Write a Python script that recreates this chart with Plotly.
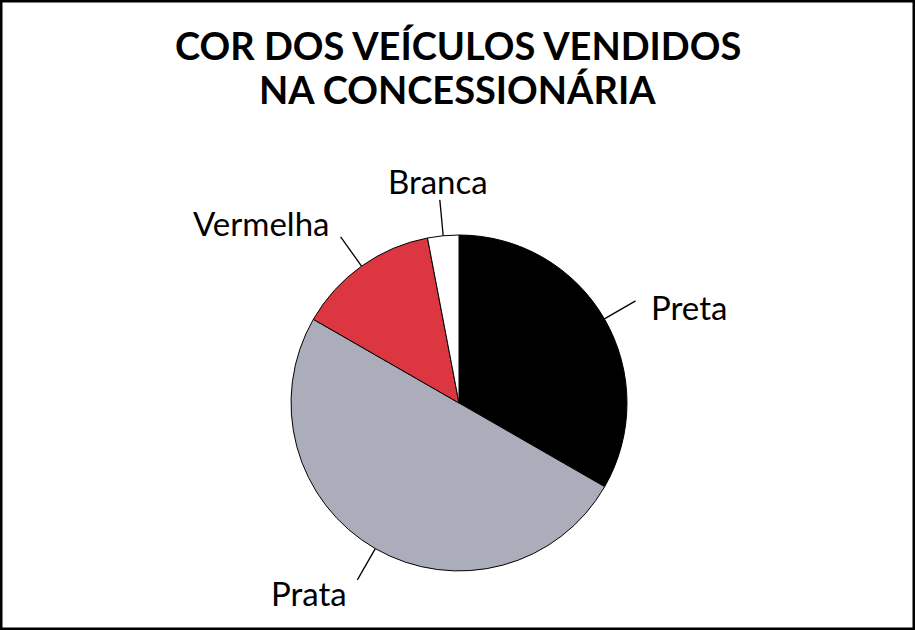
import numpy as np
import plotly.graph_objects as go

# dados (porcentagem aproximada de cada cor)
cores = ["Preta", "Prata", "Vermelha", "Branca"]
porcentagem = [33.3, 50.0, 13.7, 3.0]
cores_hex = ["#000000", "#ABADBB", "#DC3641", "#FFFFFF"]
titulo = ["COR DOS VEÍCULOS VENDIDOS", "NA CONCESSIONÁRIA"]

W, H = 915, 630
cx, cy, r = 459, 403, 168  # centro e raio da pizza em pixels

fig = go.Figure()
fig.add_trace(go.Pie(
    labels=cores, values=porcentagem, sort=False, direction="clockwise",
    marker=dict(colors=cores_hex, line=dict(color="black", width=1)),
    textinfo="none", hoverinfo="label+percent", showlegend=False,
    domain=dict(x=[(cx - r) / W, (cx + r) / W], y=[1 - (cy + r) / H, 1 - (cy - r) / H]),
))

# linhas de chamada e rótulos, calculados a partir dos ângulos das fatias
vals = np.array(porcentagem)
fim = np.cumsum(vals) / vals.sum() * 2 * np.pi
meio = fim - vals / vals.sum() * np.pi
shapes = []
annotations = []
for nome, ang in zip(cores, meio):
    s, c = np.sin(ang), np.cos(ang)
    x0, y0 = cx + r * s, cy - r * c
    x1, y1 = cx + (r + 36) * s, cy - (r + 36) * c
    shapes.append(dict(type="line", xref="paper", yref="paper",
                       x0=x0 / W, y0=1 - y0 / H, x1=x1 / W, y1=1 - y1 / H,
                       line=dict(color="black", width=1.3)))
    xa = "left" if s > 0.3 else ("right" if s < -0.3 else "center")
    ya = "bottom" if c > 0.7 else ("top" if c < -0.7 else "middle")
    dy = {"bottom": 2 + 10 * abs(s), "top": -9, "middle": 6}[ya]
    annotations.append(dict(x=(x1 + 16 * s) / W, y=1 - (y1 + dy) / H,
                            xref="paper", yref="paper", text=nome, showarrow=False,
                            xanchor=xa, yanchor=ya,
                            font=dict(family="Lato", size=33, color="black")))

# título em duas linhas
for linha, ypx in zip(titulo, [45, 89]):
    annotations.append(dict(x=0.5, y=1 - ypx / H, xref="paper", yref="paper",
                            text="<b>" + linha + "</b>", showarrow=False,
                            xanchor="center", yanchor="middle",
                            font=dict(family="Lato", size=38, color="black")))

# moldura
shapes.append(dict(type="rect", xref="paper", yref="paper", x0=0, y0=0, x1=1, y1=1,
                   line=dict(color="black", width=5)))

fig.update_layout(
    width=W, height=H,
    margin=dict(l=0, r=0, t=0, b=0),
    paper_bgcolor="white", plot_bgcolor="white",
    shapes=shapes, annotations=annotations,
)

fig.write_html("out.html", config={"displayModeBar": False},
               post_script="document.body.style.margin='0px';")
